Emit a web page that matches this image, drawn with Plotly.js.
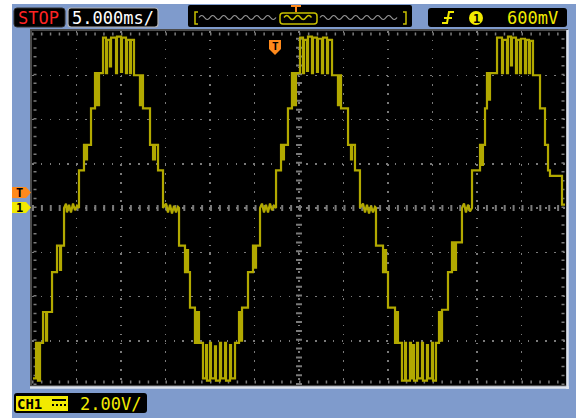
<!DOCTYPE html>
<html><head><meta charset="utf-8">
<script src="https://cdn.plot.ly/plotly-3.0.1.min.js"></script>
<style>html,body{margin:0;padding:0;background:#fff;}#chart{width:576px;height:418px;}</style>
</head><body><div id="chart"></div>
<script>
// Oscilloscope settings
const timePerDiv = 5;      // ms/div
const voltsPerDiv = 2;     // V/div
const hDivs = 12, vDivs = 8;
const statusText = "STOP";
const timebaseText = "5.000ms/";
const triggerText = "600mV";
const channelText = "CH1";
const scaleText = "2.00V/";

// Captured trace (time from left screen edge in ms, voltage in V)
const timeMs = [
0.11,0.45,0.45,0.67,0.67,0.90,0.90,1.24,1.24,1.57,1.57,1.69,1.69,2.25,2.25,2.81,2.81,3.15,3.15,3.26,3.26,3.60,3.60,
3.82,3.93,4.16,4.38,4.61,4.83,5.06,5.28,5.28,5.84,5.84,6.07,6.07,6.18,6.18,6.63,6.63,7.08,7.08,7.30,7.30,7.53,7.53,7.98,7.98,
8.31,8.31,8.43,8.43,8.76,8.76,8.88,8.88,9.44,9.44,9.55,9.55,10.0,10.0,10.11,10.11,10.56,10.56,10.67,10.67,11.01,11.01,11.12,11.12,11.46,11.46,
12.13,12.13,12.25,12.25,12.47,12.47,13.26,13.26,13.6,13.6,13.82,13.82,14.16,14.16,14.72,14.72,
15.06,15.28,15.51,15.73,15.96,16.18,16.4,16.52,16.52,17.19,17.19,17.42,17.42,17.53,17.53,17.75,17.75,18.31,18.31,18.54,18.54,18.76,18.76,19.21,19.21,
19.55,19.55,19.66,19.66,20.0,20.0,20.11,20.11,20.56,20.56,20.67,20.67,21.12,21.12,21.24,21.24,21.69,21.69,21.8,21.8,22.25,22.25,22.36,22.36,22.81,22.81,
23.26,23.26,23.48,23.48,23.6,23.6,24.27,24.27,24.83,24.83,25.06,25.06,25.17,25.17,25.62,25.62,
25.84,26.07,26.29,26.52,26.74,26.97,27.19,27.42,27.42,27.98,27.98,28.2,28.2,28.31,28.31,28.76,28.76,29.21,29.21,29.44,29.44,29.66,29.66,30.11,30.11,
30.45,30.45,30.56,30.56,30.9,30.9,31.01,31.01,31.46,31.46,31.57,31.57,32.02,32.02,32.13,32.13,32.58,32.58,32.7,32.7,33.15,33.15,33.26,33.26,33.71,33.71,
34.38,34.38,34.49,34.49,34.72,34.72,35.51,35.51,35.84,35.84,35.96,35.96,36.29,36.29,36.85,36.85,
37.19,37.42,37.64,37.87,38.09,38.31,38.54,38.65,38.65,39.44,39.44,39.66,39.66,39.78,39.78,40.0,40.0,40.79,40.79,41.01,41.01,41.12,41.12,41.57,41.57,
41.91,41.91,42.02,42.02,42.47,42.47,42.58,42.58,42.81,42.81,42.92,42.92,43.26,43.26,43.37,43.37,43.82,43.82,43.93,43.93,44.38,44.38,44.49,44.49,44.94,44.94,45.06,45.06,45.39,45.39,
45.73,45.73,45.96,45.96,46.07,46.07,46.74,46.74,47.19,47.19,47.42,47.42,47.64,47.64,48.31,48.31,
48.54,48.76,48.99,49.21,49.44,49.44,50.34,50.34,50.56,50.56,50.67,50.67,50.9,50.9,51.12,51.12,51.35,51.35,51.46,51.46,52.25,52.25,
52.81,52.81,52.92,52.92,53.37,53.37,53.48,53.48,53.82,53.82,53.93,53.93,54.38,54.38,54.49,54.49,54.83,54.83,54.94,54.94,55.39,55.39,55.51,55.51,55.84,55.84,55.96,55.96,56.29,56.29,
57.08,57.08,57.64,57.64,57.98,57.98,58.2,58.2,59.55,59.55,59.89
];
const volts = [
-7.7,-7.7,-6.1,-6.1,-7.8,-7.8,-6.1,-6.1,-4.7,-4.7,-6.0,-6.0,-4.7,-4.7,-2.9,-2.9,-1.7,-1.7,-2.8,-2.8,-1.7,-1.7,0,
0.2,-0.2,0.15,-0.2,0.2,-0.1,0.1,0,1.7,1.7,2.85,2.85,2.2,2.2,2.85,2.85,4.5,4.5,6.1,6.1,4.65,4.65,6.1,6.1,7.7,
7.7,6.1,6.1,7.6,7.6,6.4,6.4,7.7,7.7,6.1,6.1,7.75,7.75,6.15,6.15,7.7,7.7,6.1,6.1,7.6,7.6,6.1,6.1,7.6,7.6,6.0,
6.0,4.65,4.65,6.0,6.0,4.5,4.5,2.85,2.85,2.2,2.2,2.85,2.85,1.7,1.7,0,
0.2,-0.2,0.15,-0.25,0.1,-0.2,0.05,0,-1.7,-1.7,-2.9,-2.9,-1.9,-1.9,-2.9,-2.9,-4.5,-4.5,-6.1,-6.1,-4.7,-4.7,-6.1,-6.1,-7.7,
-7.7,-6.2,-6.2,-7.8,-7.8,-6.1,-6.1,-7.7,-7.7,-6.25,-6.25,-7.8,-7.8,-6.1,-6.1,-7.7,-7.7,-6.1,-6.1,-7.8,-7.8,-6.2,-6.2,-7.7,-7.7,-6.1,
-6.1,-4.7,-4.7,-6.0,-6.0,-4.5,-4.5,-2.9,-2.9,-1.7,-1.7,-2.7,-2.7,-1.7,-1.7,0,
0.2,-0.2,0.15,-0.2,0.2,-0.1,0.1,0,1.7,1.7,2.85,2.85,2.2,2.2,2.85,2.85,4.5,4.5,6.1,6.1,4.65,4.65,6.1,6.1,7.7,
7.7,6.1,6.1,7.6,7.6,6.2,6.2,7.75,7.75,6.1,6.1,7.7,7.7,6.15,6.15,7.65,7.65,6.1,6.1,7.7,7.7,6.1,6.1,7.6,7.6,6.0,
6.0,4.65,4.65,6.0,6.0,4.5,4.5,2.85,2.85,2.2,2.2,2.85,2.85,1.7,1.7,0,
0.2,-0.2,0.15,-0.25,0.1,-0.2,0.05,0,-1.7,-1.7,-2.9,-2.9,-1.9,-1.9,-2.9,-2.9,-4.5,-4.5,-6.1,-6.1,-4.7,-4.7,-6.1,-6.1,-7.8,
-7.8,-6.1,-6.1,-7.8,-7.8,-6.1,-6.1,-7.7,-7.7,-6.2,-6.2,-7.8,-7.8,-6.1,-6.1,-7.7,-7.7,-6.1,-6.1,-7.8,-7.8,-6.2,-6.2,-7.7,-7.7,-6.1,-6.1,-7.8,-7.8,-6.1,
-6.1,-4.7,-4.7,-6.0,-6.0,-4.6,-4.6,-2.9,-2.9,-1.55,-1.55,-2.8,-2.8,-1.55,-1.55,0,
0.2,-0.2,0.15,-0.15,0,1.7,1.7,2.85,2.85,1.95,1.95,2.85,2.85,4.5,4.5,6.1,6.1,4.9,4.9,6.1,6.1,7.7,
7.7,6.1,6.1,7.6,7.6,6.1,6.1,7.75,7.75,6.45,6.45,7.7,7.7,6.1,6.1,7.6,7.6,6.1,6.1,7.65,7.65,6.1,6.1,7.6,7.6,6.1,6.1,7.55,7.55,6.0,
6.0,4.5,4.5,2.85,2.85,1.7,1.7,1.45,1.45,0.15,0.15
];

// pixel -> paper helpers (plot area 32..566 x 31..385)
const L=32,R=566,T=31,B=385;
const px=x=>(x-L)/(R-L), py=y=>(B-y)/(B-T);
const P=(x,y)=>px(x).toFixed(5)+','+py(y).toFixed(5);
function rr(x0,y0,x1,y1,r){
  return `M${P(x0+r,y0)} L${P(x1-r,y0)} Q${P(x1,y0)} ${P(x1,y0+r)} L${P(x1,y1-r)} Q${P(x1,y1)} ${P(x1-r,y1)} L${P(x0+r,y1)} Q${P(x0,y1)} ${P(x0,y1-r)} L${P(x0,y0+r)} Q${P(x0,y0)} ${P(x0+r,y0)} Z`;
}
function poly(pts,close){ return 'M'+pts.map(p=>P(p[0],p[1])).join(' L')+(close?' Z':''); }
function squiggle(x0,x1,y,half,amp){
  let s=`M${P(x0,y)} Q${P(x0+half/2,y-amp)} ${P(x0+half,y)}`;
  for(let x=x0+2*half;x<=x1;x+=half){ s+=` T${P(x,y)}`; }
  return s;
}
const pshape=(path,opt)=>Object.assign({type:'path',xref:'paper',yref:'paper',path:path,layer:'above',line:{width:0}},opt);
const prect=(x0,y0,x1,y1,opt)=>Object.assign({type:'rect',xref:'paper',yref:'paper',x0:px(x0),x1:px(x1),y0:py(y1),y1:py(y0),layer:'above',line:{width:0}},opt);

const gridCol='#7a7a7a';
const yellow='#f2ea00', orange='#ff8a1c', olive='#c8c000';
const shapes=[
  prect(12,4,576,418,{fillcolor:'#7f9bcc',layer:'below'}),
  prect(L,T,R,B,{fillcolor:'#000',layer:'below'}),
  // center graticule with tick marks
  {type:'line',xref:'x',yref:'y',x0:0,x1:hDivs*timePerDiv,y0:0,y1:0,layer:'below',line:{color:gridCol,width:6,dash:'2px,6.9px'}},
  {type:'line',xref:'x',yref:'y',x0:hDivs*timePerDiv/2,x1:hDivs*timePerDiv/2,y0:-vDivs*voltsPerDiv/2,y1:vDivs*voltsPerDiv/2,layer:'below',line:{color:gridCol,width:6,dash:'2px,6.85px'}},
  // edge ticks
  {type:'line',xref:'paper',yref:'paper',x0:0,x1:1,y0:py(34),y1:py(34),layer:'below',line:{color:gridCol,width:3,dash:'1.5px,7.4px'}},
  {type:'line',xref:'paper',yref:'paper',x0:0,x1:1,y0:py(382),y1:py(382),layer:'below',line:{color:gridCol,width:3,dash:'1.5px,7.4px'}},
  {type:'line',xref:'paper',yref:'paper',x0:px(35),x1:px(35),y0:0,y1:1,layer:'below',line:{color:gridCol,width:3,dash:'1.5px,7.35px'}},
  {type:'line',xref:'paper',yref:'paper',x0:px(563),x1:px(563),y0:0,y1:1,layer:'below',line:{color:gridCol,width:3,dash:'1.5px,7.35px'}},
  // bevel
  {type:'line',xref:'paper',yref:'paper',x0:px(567.5),x1:px(567.5),y0:py(389),y1:py(30),layer:'above',line:{color:'#dde3ee',width:2.5}},
  {type:'line',xref:'paper',yref:'paper',x0:px(30),x1:px(569),y0:py(387.5),y1:py(387.5),layer:'above',line:{color:'#dde3ee',width:2.5}},
  // top status boxes
  pshape(rr(14,8,65,27,3),{fillcolor:'#000',line:{color:'#303030',width:1}}),
  pshape(rr(68,8,158,27,3),{fillcolor:'#000',line:{color:'#b4b4b4',width:1.2}}),
  pshape(rr(188,5,412,27,2),{fillcolor:'#000'}),
  pshape(rr(428,8,567,27,3),{fillcolor:'#000'}),
  pshape(rr(14,393,147,413,3),{fillcolor:'#000'}),
  // navigator
  pshape(squiggle(199,277,17.5,5.5,4),{line:{color:'#9a9a9a',width:1.2}}),
  pshape(squiggle(320,402,17.5,5.5,4),{line:{color:'#9a9a9a',width:1.2}}),
  pshape(squiggle(284,313,17.5,5.5,4),{line:{color:olive,width:1.4}}),
  pshape(rr(280,13,317,24,3),{line:{color:olive,width:1.5}}),
  pshape(poly([[198,12],[195,12],[195,24],[198,24]]),{line:{color:olive,width:1.5}}),
  pshape(poly([[403,12],[406,12],[406,24],[403,24]]),{line:{color:olive,width:1.5}}),
  pshape(poly([[291,6],[301,6]])+' '+poly([[296,6],[296,12]]),{line:{color:orange,width:2}}),
  // trigger edge symbol and channel circle
  pshape(poly([[442,23],[447,23],[449,12],[454,12]])+' '+poly([[444,18],[452,18]]),{line:{color:yellow,width:2}}),
  {type:'circle',xref:'paper',yref:'paper',x0:px(469),x1:px(483),y0:py(25),y1:py(11),fillcolor:yellow,line:{width:0},layer:'above'},
  // CH1 badge
  prect(16,396,68,411,{fillcolor:yellow}),
  pshape(poly([[52,400],[66,400]]),{line:{color:'#000',width:2}}),
  pshape(poly([[52,405],[66,405]]),{line:{color:'#000',width:2,dash:'2px,2px'}}),
  // left markers
  pshape(poly([[12,187],[26,187],[31,192.5],[26,198],[12,198]],true),{fillcolor:orange}),
  pshape(poly([[12,202],[26,202],[31,207.5],[26,213],[12,213]],true),{fillcolor:yellow}),
  // trigger position marker
  pshape(poly([[269,40],[281,40],[281,49],[275,55],[269,49]],true),{fillcolor:orange})
];

const mono='DejaVu Sans Mono';
const ann=(text,x,y,size,color,anchor)=>({text:text,xref:'paper',yref:'paper',x:px(x),y:py(y),xanchor:anchor||'left',yanchor:'middle',showarrow:false,borderpad:0,font:{family:mono,size:size,color:color}});
const annotations=[
  ann(statusText,17,18,17,'#ff2424'),
  ann(timebaseText,71,18,17,'#ffffff'),
  ann(triggerText,506,18,17,yellow),
  ann(scaleText,79,403.5,17,yellow),
  ann('<b>'+channelText+'</b>',16,404,14,'#000'),
  ann('<b>1</b>',476,18.5,12,'#000','center'),
  ann('<b>T</b>',19,193,12,'#000','center'),
  ann('<b>1</b>',19,208,12,'#000','center'),
  ann('<b>T</b>',275,46.5,11,'#000','center')
];

const trace={x:timeMs,y:volts,type:'scatter',mode:'lines',line:{color:'#b2a900',width:2.2},hoverinfo:'skip'};
const layout={
  width:576,height:418,margin:{l:L,r:576-R,t:T,b:418-B,pad:0},
  paper_bgcolor:'#ffffff',plot_bgcolor:'#000000',showlegend:false,
  xaxis:{range:[0,hDivs*timePerDiv],tick0:0,dtick:timePerDiv,showgrid:true,gridcolor:gridCol,gridwidth:1.5,griddash:'1.5px,7.4px',
         zeroline:false,showticklabels:false,ticks:'',showline:true,mirror:true,linecolor:'#4a4a4a',linewidth:2,fixedrange:true},
  yaxis:{range:[-vDivs*voltsPerDiv/2,vDivs*voltsPerDiv/2],tick0:0,dtick:voltsPerDiv,showgrid:true,gridcolor:gridCol,gridwidth:1.5,griddash:'1.5px,7.35px',
         zeroline:false,showticklabels:false,ticks:'',showline:true,mirror:true,linecolor:'#4a4a4a',linewidth:2,fixedrange:true},
  shapes:shapes,annotations:annotations
};
Plotly.newPlot('chart',[trace],layout,{displayModeBar:false,staticPlot:true});
</script></body></html>
